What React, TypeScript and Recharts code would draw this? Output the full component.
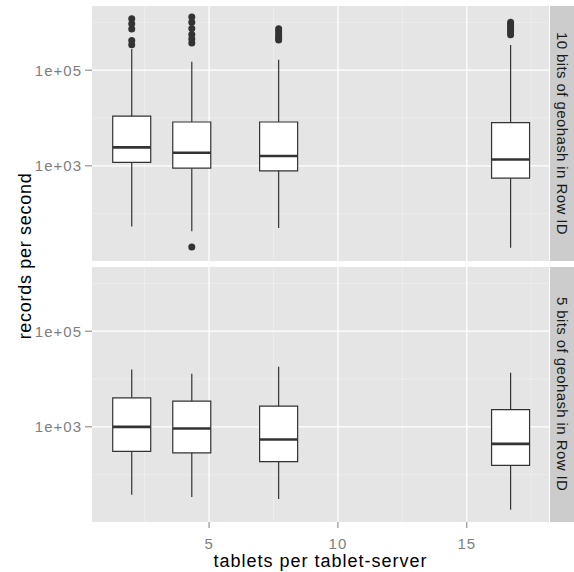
import {
  ComposedChart,
  Bar,
  Scatter,
  ErrorBar,
  XAxis,
  YAxis,
  CartesianGrid,
} from "recharts";

const tabletCounts = [2, 4.33, 7.7, 16.7];

// 10 bits of geohash in Row ID
const tenLow = [54, 43, 50, 19.4];
const tenQ1 = [1178, 895, 785, 552];
const tenMedian = [2430, 1875, 1600, 1360];
const tenQ3 = [10900, 8260, 8260, 7980];
const tenHigh = [277000, 150000, 165000, 336000];
const tenOutliers = [
  [1190000, 940000, 726000, 419000, 340000],
  [1300000, 1000000, 748000, 560000, 449000, 370000, 20],
  [740000, 660000, 575000, 513000, 457000, 427000],
  [1000000, 890000, 790000, 710000, 630000, 550000],
];

// 5 bits of geohash in Row ID
const fiveLow = [38, 34, 31, 18.5];
const fiveQ1 = [308, 285, 188, 157];
const fiveMedian = [1000, 921, 542, 440];
const fiveQ3 = [4050, 3440, 2700, 2300];
const fiveHigh = [15800, 12900, 18100, 13500];
const fiveOutliers: number[][] = [[], [], [], []];

const yTicks = [1000, 100000];
const yMinor = [100, 10000, 1000000];
const xTicks = [5, 10, 15];
const xMinor = [2.5, 7.5, 12.5, 17.5];

const FONT = "'Liberation Sans', Arial, Helvetica, sans-serif";
const DARK = "#333333";
const BOX_W = 38;

type Stats = {
  low: number[];
  q1: number[];
  median: number[];
  q3: number[];
  high: number[];
  outliers: number[][];
};

const fmtLog = (v: number) => {
  const e = Math.round(Math.log10(v));
  return "1e+" + String(e).padStart(2, "0");
};

const Panel = ({ stats, showX }: { stats: Stats; showX: boolean }) => {
  const rows = tabletCounts.map((x, i) => ({ x, box: [stats.q1[i], stats.q3[i]] }));
  const medians = tabletCounts.map((x, i) => ({ x, y: stats.median[i] }));
  const lowerWhisk = tabletCounts.map((x, i) => ({
    x,
    y: stats.q1[i],
    err: [stats.q1[i] - stats.low[i], 0],
  }));
  const upperWhisk = tabletCounts.map((x, i) => ({
    x,
    y: stats.q3[i],
    err: [0, stats.high[i] - stats.q3[i]],
  }));
  const outliers = tabletCounts.flatMap((x, i) =>
    stats.outliers[i].map((y) => ({ x, y }))
  );

  return (
    <ComposedChart
      width={550}
      height={showX ? 311 : 262}
      data={rows}
      margin={{ top: 6, right: 1, bottom: showX ? 0 : 1, left: 0 }}
    >
      <CartesianGrid
        fill="#E5E5E5"
        stroke="#F2F2F2"
        strokeWidth={0.6}
        horizontalValues={yMinor}
        verticalValues={xMinor}
      />
      <CartesianGrid
        stroke="#FFFFFF"
        strokeWidth={1.3}
        horizontalValues={yTicks}
        verticalValues={xTicks}
      />
      <XAxis
        type="number"
        dataKey="x"
        domain={[0.458, 18.19]}
        allowDataOverflow
        ticks={xTicks}
        hide={!showX}
        height={50}
        axisLine={false}
        tickLine={{ stroke: "#7F7F7F" }}
        tickSize={6}
        tickMargin={10}
        tick={{ fill: "#7F7F7F", fontSize: 15, fontFamily: FONT, letterSpacing: 1 }}
        label={{
          value: "tablets per tablet-server",
          position: "insideBottom",
          offset: 5,
          fill: "#000",
          fontSize: 18,
          fontFamily: FONT,
          letterSpacing: 1,
        }}
      />
      <YAxis
        type="number"
        dataKey="y"
        scale="log"
        domain={[10.23, 2200000]}
        allowDataOverflow
        ticks={yTicks}
        tickFormatter={fmtLog}
        width={92}
        axisLine={false}
        tickLine={{ stroke: "#7F7F7F" }}
        tickSize={7}
        tickMargin={3}
        tick={{ fill: "#7F7F7F", fontSize: 15, fontFamily: FONT, letterSpacing: 1 }}
      />
      <Bar
        dataKey="box"
        barSize={BOX_W}
        fill="#FFFFFF"
        stroke={DARK}
        strokeWidth={1.2}
        isAnimationActive={false}
      />
      <Scatter data={lowerWhisk} shape={() => <g />} isAnimationActive={false}>
        <ErrorBar dataKey="err" direction="y" width={0} stroke={DARK} strokeWidth={1.2} />
      </Scatter>
      <Scatter data={upperWhisk} shape={() => <g />} isAnimationActive={false}>
        <ErrorBar dataKey="err" direction="y" width={0} stroke={DARK} strokeWidth={1.2} />
      </Scatter>
      <Scatter
        data={medians}
        isAnimationActive={false}
        shape={(p: any) => (
          <line
            x1={p.cx - BOX_W / 2}
            x2={p.cx + BOX_W / 2}
            y1={p.cy}
            y2={p.cy}
            stroke={DARK}
            strokeWidth={2.6}
          />
        )}
      />
      <Scatter
        data={outliers}
        isAnimationActive={false}
        shape={(p: any) => <circle cx={p.cx} cy={p.cy} r={3.5} fill={DARK} />}
      />
    </ComposedChart>
  );
};

const Strip = ({ top, text }: { top: number; text: string }) => (
  <div
    style={{
      position: "absolute",
      left: 550,
      top,
      width: 24,
      height: 255,
      background: "#CCCCCC",
      display: "flex",
      alignItems: "center",
      justifyContent: "center",
    }}
  >
    <span
      style={{
        writingMode: "vertical-rl",
        fontFamily: FONT,
        fontSize: 15,
        letterSpacing: 0.4,
        color: "#1A1A1A",
        whiteSpace: "nowrap",
      }}
    >
      {text}
    </span>
  </div>
);

export default function App() {
  return (
    <div
      style={{
        position: "absolute",
        left: 0,
        top: 0,
        width: 574,
        height: 572,
        background: "#fff",
        overflow: "hidden",
      }}
    >
      <div style={{ position: "absolute", left: 0, top: 0 }}>
        <Panel
          showX={false}
          stats={{
            low: tenLow,
            q1: tenQ1,
            median: tenMedian,
            q3: tenQ3,
            high: tenHigh,
            outliers: tenOutliers,
          }}
        />
      </div>
      <div style={{ position: "absolute", left: 0, top: 261 }}>
        <Panel
          showX
          stats={{
            low: fiveLow,
            q1: fiveQ1,
            median: fiveMedian,
            q3: fiveQ3,
            high: fiveHigh,
            outliers: fiveOutliers,
          }}
        />
      </div>
      <Strip top={6} text="10 bits of geohash in Row ID" />
      <Strip top={267} text="5 bits of geohash in Row ID" />
      <div
        style={{
          position: "absolute",
          left: 24.6 - 110,
          top: 256 - 12,
          width: 220,
          height: 24,
          lineHeight: "24px",
          textAlign: "center",
          transform: "rotate(-90deg)",
          fontFamily: FONT,
          fontSize: 18,
          letterSpacing: 0.7,
          color: "#000",
          whiteSpace: "nowrap",
        }}
      >
        records per second
      </div>
    </div>
  );
}
